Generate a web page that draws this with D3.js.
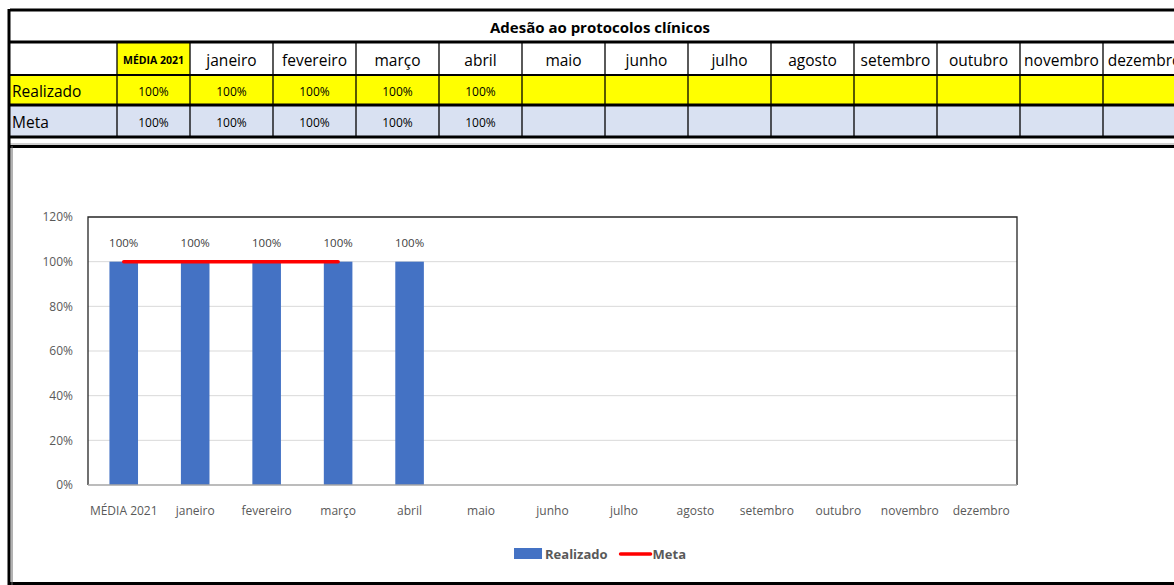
<!DOCTYPE html>
<html>
<head>
<meta charset="utf-8">
<script src="https://cdn.jsdelivr.net/npm/d3@7"></script>
<style>
  body { margin: 0; background: #fff; }
  svg { display: block; }
  text { font-family: "Open Sans", sans-serif; }
</style>
</head>
<body>
<svg id="chart" width="1174" height="585"></svg>
<script>
const titulo = "Adesão ao protocolos clínicos";
const categorias = ["MÉDIA 2021", "janeiro", "fevereiro", "março", "abril", "maio", "junho",
  "julho", "agosto", "setembro", "outubro", "novembro", "dezembro"];
const realizado = [1, 1, 1, 1, 1, null, null, null, null, null, null, null, null];
const metaTabela = [1, 1, 1, 1, 1, null, null, null, null, null, null, null, null];
// no gráfico a linha da meta vai só até março
const metaGrafico = [1, 1, 1, 1, null, null, null, null, null, null, null, null, null];
const yTicks = [0, 0.2, 0.4, 0.6, 0.8, 1.0, 1.2];

const svg = d3.select("#chart");
const pct = d3.format(".0%");
const cinza = "#595959";

/* ---------- tabela ---------- */
const x0 = 10, col0 = 107, colMedia = 73, colMes = 83;
const colX = [x0, x0 + col0];
for (let i = 1; i < categorias.length; i++) colX.push(colX[i] + (i === 1 ? colMedia : colMes));
colX.push(colX[colX.length - 1] + colMes);
const rowY = [10, 42, 75, 105, 137];

const tab = svg.append("g");
// fundos
tab.append("rect").attr("x", x0).attr("y", rowY[2]).attr("width", 1174).attr("height", rowY[3] - rowY[2]).attr("fill", "#ffff00");
tab.append("rect").attr("x", x0).attr("y", rowY[3]).attr("width", 1174).attr("height", rowY[4] - rowY[3]).attr("fill", "#d9e1f2");
tab.append("rect").attr("x", colX[1]).attr("y", rowY[1]).attr("width", colMedia).attr("height", rowY[2] - rowY[1]).attr("fill", "#ffff00");

// linhas verticais
colX.slice(1).forEach(x => {
  tab.append("line").attr("x1", x).attr("x2", x).attr("y1", rowY[1]).attr("y2", rowY[4])
    .attr("stroke", "#000").attr("stroke-width", 1.3);
});
// linhas horizontais
rowY.forEach((y, i) => {
  tab.append("line").attr("x1", x0).attr("x2", 1174).attr("y1", y).attr("y2", y)
    .attr("stroke", "#000").attr("stroke-width", i === 2 ? 2 : 3);
});

tab.append("text").attr("x", 600).attr("y", 27).attr("text-anchor", "middle")
  .attr("dominant-baseline", "central").attr("font-size", 15).attr("font-weight", "bold")
  .text(titulo);

categorias.forEach((c, i) => {
  const cx = (colX[i + 1] + colX[i + 2]) / 2;
  tab.append("text").attr("x", cx).attr("y", (rowY[1] + rowY[2]) / 2 + 1)
    .attr("text-anchor", "middle").attr("dominant-baseline", "central")
    .attr("font-size", i === 0 ? 10.5 : 15.5).attr("font-weight", i === 0 ? "bold" : "normal")
    .text(c);
  if (realizado[i] != null)
    tab.append("text").attr("x", cx).attr("y", (rowY[2] + rowY[3]) / 2 + 1)
      .attr("text-anchor", "middle").attr("dominant-baseline", "central").attr("font-size", 12)
      .text(pct(realizado[i]));
  if (metaTabela[i] != null)
    tab.append("text").attr("x", cx).attr("y", (rowY[3] + rowY[4]) / 2 + 1)
      .attr("text-anchor", "middle").attr("dominant-baseline", "central").attr("font-size", 12)
      .text(pct(metaTabela[i]));
});
tab.append("text").attr("x", 12).attr("y", (rowY[2] + rowY[3]) / 2 + 1).attr("dominant-baseline", "central")
  .attr("font-size", 15.5).text("Realizado");
tab.append("text").attr("x", 12).attr("y", (rowY[3] + rowY[4]) / 2 + 1).attr("dominant-baseline", "central")
  .attr("font-size", 15.5).text("Meta");

// separador cinza e moldura do gráfico
svg.append("line").attr("x1", x0).attr("x2", 1174).attr("y1", 144).attr("y2", 144).attr("stroke", "#bfbfbf").attr("stroke-width", 1.5);
svg.append("line").attr("x1", 10).attr("x2", 1174).attr("y1", 146.5).attr("y2", 146.5).attr("stroke", "#000").attr("stroke-width", 3);
svg.append("line").attr("x1", 10).attr("x2", 1174).attr("y1", 583.5).attr("y2", 583.5).attr("stroke", "#000").attr("stroke-width", 3);
svg.append("line").attr("x1", 9).attr("x2", 9).attr("y1", 9).attr("y2", 585).attr("stroke", "#000").attr("stroke-width", 3);
svg.append("line").attr("x1", 12).attr("x2", 12).attr("y1", 146).attr("y2", 585).attr("stroke", "#666").attr("stroke-width", 1);

/* ---------- gráfico ---------- */
const plot = { left: 88, right: 1017, top: 217, bottom: 485 };
const x = d3.scaleBand().domain(categorias).range([plot.left, plot.right]).paddingInner(0.6).paddingOuter(0.3);
const y = d3.scaleLinear().domain([0, 1.2]).range([plot.bottom, plot.top]);

const g = svg.append("g");
// grade
g.selectAll(".grid").data(yTicks.slice(1, -1)).join("line")
  .attr("x1", plot.left).attr("x2", plot.right)
  .attr("y1", d => y(d)).attr("y2", d => y(d))
  .attr("stroke", "#d9d9d9").attr("stroke-width", 1);

// eixo y
const yAxis = g.append("g").attr("transform", `translate(${plot.left - 12},0)`)
  .call(d3.axisLeft(y).tickValues(yTicks).tickFormat(pct).tickSize(0));
yAxis.select(".domain").remove();
yAxis.selectAll("text").attr("fill", cinza).attr("font-size", 12)
  .style("font-family", '"Open Sans", sans-serif');

// eixo x
const xAxis = g.append("g").attr("transform", `translate(0,${plot.bottom + 18})`)
  .call(d3.axisBottom(x).tickSize(0));
xAxis.select(".domain").remove();
xAxis.selectAll("text").attr("fill", cinza).attr("font-size", 12)
  .style("font-family", '"Open Sans", sans-serif');

// barras
const bw = x.bandwidth();
const barras = categorias.map((c, i) => ({ c, v: realizado[i] })).filter(d => d.v != null);
g.selectAll(".bar").data(barras)
  .join("rect")
  .attr("x", d => x(d.c)).attr("width", bw)
  .attr("y", d => y(d.v)).attr("height", d => y(0) - y(d.v))
  .attr("fill", "#4472c4");

g.selectAll(".lbl").data(barras)
  .join("text")
  .attr("x", d => x(d.c) + bw / 2).attr("y", d => y(d.v) - 19)
  .attr("text-anchor", "middle").attr("dominant-baseline", "central")
  .attr("font-size", 11.5).attr("fill", "#404040")
  .text(d => pct(d.v));

// borda da área de plotagem
g.append("path")
  .attr("d", `M${plot.left},${plot.bottom}V${plot.top}H${plot.right}V${plot.bottom}`)
  .attr("fill", "none").attr("stroke", "#262626").attr("stroke-width", 1.3);
g.append("line").attr("x1", plot.left).attr("x2", plot.right).attr("y1", plot.bottom).attr("y2", plot.bottom)
  .attr("stroke", "#a6a6a6").attr("stroke-width", 1.3);

// linha da meta
const linha = d3.line().defined(d => d.v != null).x(d => x(d.c) + bw / 2).y(d => y(d.v));
g.append("path").datum(categorias.map((c, i) => ({ c, v: metaGrafico[i] })))
  .attr("d", linha).attr("fill", "none").attr("stroke", "#ff0000")
  .attr("stroke-width", 3.5).attr("stroke-linecap", "round");

// legenda (medida e centrada)
const leg = svg.append("g");
leg.append("rect").attr("x", 0).attr("y", -6).attr("width", 28).attr("height", 11).attr("fill", "#4472c4");
const t1 = leg.append("text").attr("x", 31).attr("y", 0).attr("dominant-baseline", "central")
  .attr("font-size", 13).attr("font-weight", "bold").attr("fill", cinza).text("Realizado");
const w1 = t1.node().getComputedTextLength();
const lx = 31 + w1 + 13;
leg.append("line").attr("x1", lx).attr("x2", lx + 30).attr("y1", 0).attr("y2", 0)
  .attr("stroke", "#ff0000").attr("stroke-width", 3.5).attr("stroke-linecap", "round");
const t2 = leg.append("text").attr("x", lx + 32).attr("y", 0).attr("dominant-baseline", "central")
  .attr("font-size", 13).attr("font-weight", "bold").attr("fill", cinza).text("Meta");
const wt = lx + 32 + t2.node().getComputedTextLength();
leg.attr("transform", `translate(${600 - wt / 2},554)`);
</script>
</body>
</html>
